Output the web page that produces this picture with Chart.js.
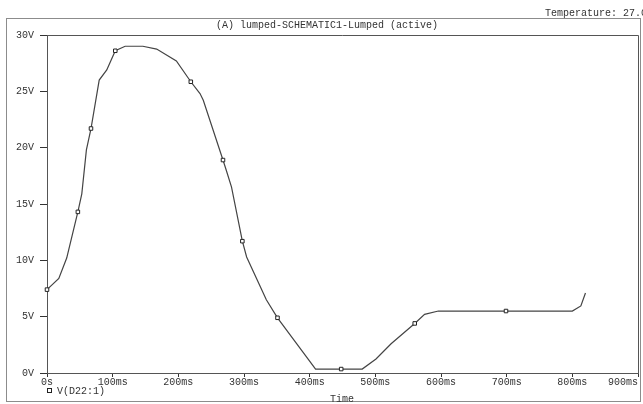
<!DOCTYPE html>
<html>
<head>
<meta charset="utf-8">
<script src="https://cdn.jsdelivr.net/npm/chart.js@4"></script>
<style>
  html, body { margin: 0; padding: 0; background: #fff; }
  #wrap { width: 643px; height: 404px; position: relative; }
</style>
</head>
<body>
<div id="wrap"><canvas id="chart"></canvas></div>
<script>
// sample times (ms) and voltage (V)
const times = [0, 18, 30, 47, 53, 60, 67, 79.5, 91, 104, 119, 146, 167, 197, 219, 233, 238,
  268, 273, 281, 297.5, 304, 334, 351, 409, 448, 480, 501, 524, 560, 575, 596, 699, 800, 813, 820];
const volts = [7.4, 8.4, 10.2, 14.3, 15.9, 19.8, 21.7, 26.0, 26.9, 28.6, 29.0, 29.0, 28.75, 27.7, 25.85, 24.8, 24.2,
  18.9, 18.0, 16.5, 11.7, 10.3, 6.5, 4.9, 0.35, 0.35, 0.35, 1.24, 2.6, 4.4, 5.2, 5.5, 5.5, 5.5, 5.95, 7.1];
// where the square markers sit (times that carry a marker)
const markerTimes = [0, 47, 67, 104, 219, 268, 297.5, 351, 448, 560, 699];
const xTicks = [0, 100, 200, 300, 400, 500, 600, 700, 800, 900];
const xTickLabels = ['0s', '100ms', '200ms', '300ms', '400ms', '500ms', '600ms', '700ms', '800ms', '900ms'];

const FONT = '10px "Liberation Mono", "Courier New", monospace';
const TXT = '#333';

const points = times.map((t, i) => ({ x: t, y: volts[i] }));

// frame, titles, x labels, legend drawn around the plot
const decor = {
  id: 'decor',
  afterDraw(chart) {
    const { ctx, chartArea: a } = chart;
    const xs = chart.scales.x;
    ctx.save();
    // outer frame
    ctx.strokeStyle = '#8c8c8c';
    ctx.lineWidth = 1;
    ctx.strokeRect(6.5, 18.5, 634, 383);
    // top and right edges of the plot box
    ctx.strokeStyle = '#555';
    ctx.beginPath();
    ctx.moveTo(a.left, a.top + 0.5);
    ctx.lineTo(a.right + 0.5, a.top + 0.5);
    ctx.lineTo(a.right + 0.5, a.bottom);
    ctx.stroke();

    ctx.font = FONT;
    ctx.fillStyle = TXT;
    ctx.textBaseline = 'middle';
    ctx.textAlign = 'left';
    ctx.fillText('Temperature: 27.0', 545, 13);
    ctx.textAlign = 'center';
    ctx.fillText('(A) lumped-SCHEMATIC1-Lumped (active)', 327, 25);

    // x tick labels
    xTicks.forEach((v, i) => {
      let px = xs.getPixelForValue(v);
      const w = ctx.measureText(xTickLabels[i]).width;
      if (px + w / 2 > a.right) px = a.right - w / 2;
      ctx.fillText(xTickLabels[i], px, 382);
    });
    ctx.fillText('Time', 342, 399);

    // legend
    ctx.strokeStyle = '#222';
    ctx.strokeRect(47.5, 388.5, 4, 4);
    ctx.textAlign = 'left';
    ctx.fillText('V(D22:1)', 57, 391);
    ctx.restore();
  }
};

new Chart(document.getElementById('chart'), {
  type: 'line',
  data: {
    datasets: [{
      label: 'V(D22:1)',
      data: points,
      borderColor: '#444',
      borderWidth: 1.2,
      tension: 0,
      pointStyle: 'rect',
      pointRadius: ctx => markerTimes.includes(times[ctx.dataIndex]) ? 2.5 : 0,
      pointBackgroundColor: '#fff',
      pointBorderColor: '#222',
      pointBorderWidth: 1,
      clip: false
    }]
  },
  options: {
    responsive: true,
    maintainAspectRatio: false,
    animation: false,
    devicePixelRatio: 1,
    layout: { padding: { left: 0, right: 4, top: 35, bottom: 0 } },
    plugins: { legend: { display: false }, tooltip: { enabled: false } },
    scales: {
      x: {
        type: 'linear',
        min: 0,
        max: 900,
        afterBuildTicks: s => { s.ticks = xTicks.map(v => ({ value: v })); },
        afterFit: s => { s.height = 31; },
        ticks: { display: false },
        grid: { drawOnChartArea: false, drawTicks: true, tickLength: 4, color: '#333' },
        border: { color: '#555', width: 1 }
      },
      y: {
        min: 0,
        max: 30,
        afterFit: s => { s.width = 47; },
        ticks: {
          stepSize: 5,
          padding: 6,
          color: TXT,
          font: { family: '"Liberation Mono", "Courier New", monospace', size: 10 },
          callback: v => v + 'V'
        },
        grid: { drawOnChartArea: false, drawTicks: true, tickLength: 7, color: '#333' },
        border: { color: '#555', width: 1 }
      }
    }
  },
  plugins: [decor]
});
</script>
</body>
</html>
